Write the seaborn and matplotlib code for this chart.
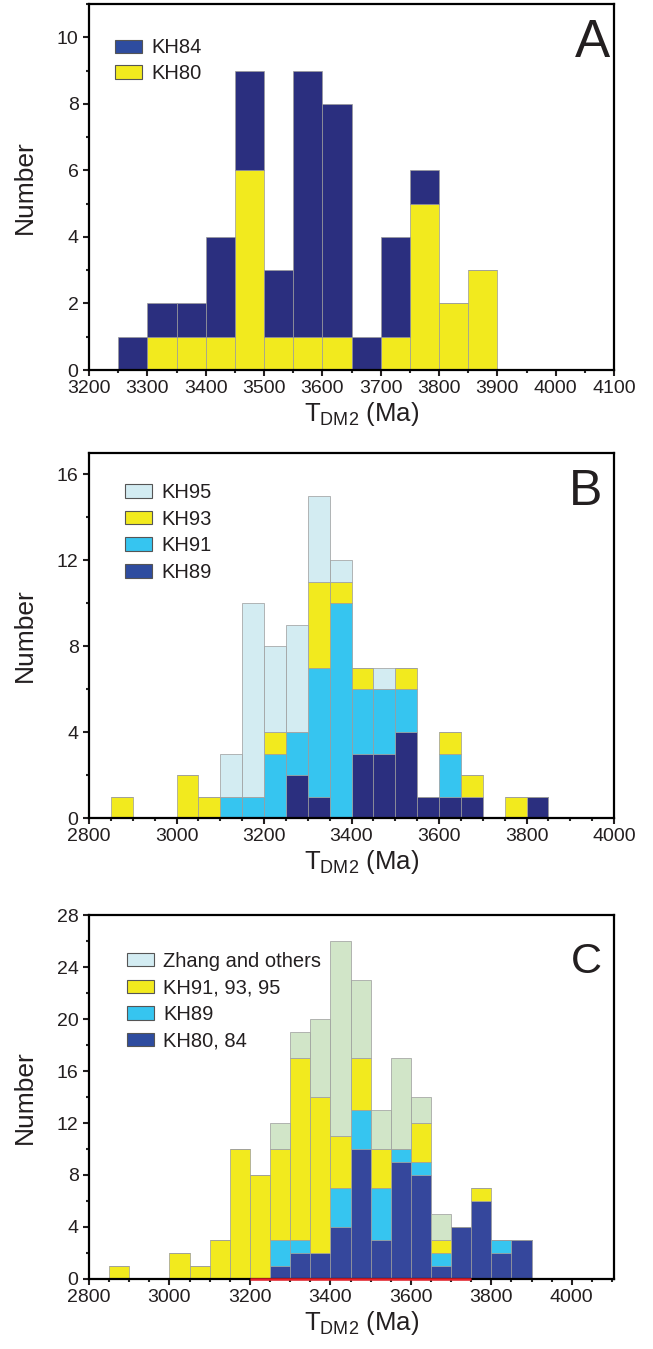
import matplotlib
matplotlib.use("Agg")
import matplotlib.pyplot as plt
from matplotlib.patches import Patch
from matplotlib.ticker import MultipleLocator
import numpy as np
import pandas as pd
import seaborn as sns

BIN_WIDTH = 50
INK = "#231f20"

# panel A: bin left edges (Ma) and counts per sample
A_BINS = [3250, 3300, 3350, 3400, 3450, 3500, 3550, 3600, 3650, 3700, 3750, 3800, 3850]
A_KH84 = [1, 1, 1, 3, 3, 2, 8, 7, 1, 3, 1, 0, 0]
A_KH80 = [0, 1, 1, 1, 6, 1, 1, 1, 0, 1, 5, 2, 3]

# panel B
B_BINS = [2850, 2900, 2950, 3000, 3050, 3100, 3150, 3200, 3250, 3300,
          3350, 3400, 3450, 3500, 3550, 3600, 3650, 3700, 3750, 3800]
B_KH95 = [0, 0, 0, 0, 0, 2, 9, 4, 5, 4, 1, 0, 1, 0, 0, 0, 0, 0, 0, 0]
B_KH93 = [1, 0, 0, 2, 1, 0, 0, 1, 0, 4, 1, 1, 0, 1, 0, 1, 1, 0, 1, 0]
B_KH91 = [0, 0, 0, 0, 0, 1, 1, 3, 2, 6, 10, 3, 3, 2, 0, 2, 0, 0, 0, 0]
B_KH89 = [0, 0, 0, 0, 0, 0, 0, 0, 2, 1, 0, 3, 3, 4, 1, 1, 1, 0, 0, 1]

# panel C
C_BINS = [2850, 2900, 2950, 3000, 3050, 3100, 3150, 3200, 3250, 3300, 3350,
          3400, 3450, 3500, 3550, 3600, 3650, 3700, 3750, 3800, 3850]
C_ZHANG = [0, 0, 0, 0, 0, 0, 0, 0, 2, 2, 6, 15, 6, 3, 7, 2, 2, 0, 0, 0, 0]
C_KH91_95 = [1, 0, 0, 2, 1, 3, 10, 8, 7, 14, 12, 4, 4, 3, 0, 3, 1, 0, 1, 0, 0]
C_KH89 = [0, 0, 0, 0, 0, 0, 0, 0, 2, 1, 0, 3, 3, 4, 1, 1, 1, 0, 0, 1, 0]
C_KH80_84 = [0, 0, 0, 0, 0, 0, 0, 0, 1, 2, 2, 4, 10, 3, 9, 8, 1, 4, 6, 2, 3]
C_RED_SPAN = [3200, 3750]

NAVY = "#2b2f7f"
NAVY_C = "#35479c"
YELLOW = "#f2ea1e"
CYAN = "#36c5f0"
PALE_BLUE = "#d3ecf2"
PALE_GREEN = "#d1e5c8"
LEGEND_BLUE = "#2e4c9f"


def stack_frame(bins, series):
  rows = []
  for name, counts in series.items():
    for left, n in zip(bins, counts):
      rows.append({"age": left + BIN_WIDTH / 2, "count": n, "sample": name})
  return pd.DataFrame(rows)


def draw_panel(ax, bins, series, colors, legend_colors, xlim, ylim,
               xmajor, ymajor, yminor, letter, letter_x, letter_y,
               letter_size, legend_xy, spacing):
  edges = list(bins) + [bins[-1] + BIN_WIDTH]
  sns.histplot(
    data=stack_frame(bins, series),
    x="age",
    weights="count",
    hue="sample",
    hue_order=list(series),
    palette=colors,
    bins=edges,
    multiple="stack",
    alpha=1,
    edgecolor="#9a9a9a",
    linewidth=0.5,
    legend=False,
    ax=ax,
  )
  ax.set_xticks(np.arange(xlim[0], xlim[1] + 1, xmajor))
  ax.xaxis.set_minor_locator(MultipleLocator(50))
  ax.yaxis.set_major_locator(MultipleLocator(ymajor))
  ax.yaxis.set_minor_locator(MultipleLocator(yminor))
  ax.set_xlim(*xlim)
  ax.set_ylim(*ylim)
  ax.tick_params(which="major", direction="out", length=4, width=1.5,
                 labelsize=14, pad=3.5, colors=INK)
  ax.tick_params(which="minor", direction="out", length=2.5, width=1.5)
  for spine in ax.spines.values():
    spine.set_linewidth(1.6)
    spine.set_color("black")
    spine.set_visible(True)
  ax.set_ylabel("Number", fontsize=19, color=INK)
  ax.yaxis.set_label_coords(-0.100, 0.5)
  ax.set_xlabel("T$_\\mathregular{DM2}$ (Ma)", fontsize=18.5, color=INK)
  ax.xaxis.set_label_coords(0.52, -0.082)
  handles = [Patch(facecolor=legend_colors[n], edgecolor="#555555",
                   linewidth=0.8, label=n) for n in series]
  ax.legend(handles=handles, loc="upper left", bbox_to_anchor=legend_xy,
            frameon=False, fontsize=14.5, handlelength=1.35, handleheight=0.65,
            handletextpad=0.45, labelspacing=spacing, borderpad=0,
            borderaxespad=0, labelcolor=INK)
  ax.text(letter_x, letter_y, letter, transform=ax.transAxes, ha="right",
          va="top", fontsize=letter_size, color=INK)


sns.set_style("ticks")
plt.rcParams["font.family"] = ["Liberation Sans", "DejaVu Sans"]
plt.rcParams["mathtext.default"] = "regular"

fig = plt.figure(figsize=(6.53, 13.49), dpi=100)
left, width = 0.1363, 0.804
ax_a = fig.add_axes([left, 0.7257, width, 0.2713])
ax_b = fig.add_axes([left, 0.3936, width, 0.2706])
ax_c = fig.add_axes([left, 0.0519, width, 0.2698])

draw_panel(
  ax_a, A_BINS, {"KH84": A_KH84, "KH80": A_KH80},
  {"KH84": NAVY, "KH80": YELLOW},
  {"KH84": LEGEND_BLUE, "KH80": YELLOW},
  (3200, 4100), (0, 11), 100, 2, 1,
  "A", 0.992, 0.962, 38, (0.0495, 0.906), 0.33,
)
draw_panel(
  ax_b, B_BINS,
  {"KH95": B_KH95, "KH93": B_KH93, "KH91": B_KH91, "KH89": B_KH89},
  {"KH95": PALE_BLUE, "KH93": YELLOW, "KH91": CYAN, "KH89": NAVY},
  {"KH95": PALE_BLUE, "KH93": YELLOW, "KH91": CYAN, "KH89": LEGEND_BLUE},
  (2800, 4000), (0, 17), 200, 4, 2,
  "B", 0.978, 0.955, 36, (0.0686, 0.918), 0.38,
)
draw_panel(
  ax_c, C_BINS,
  {"Zhang and others": C_ZHANG, "KH91, 93, 95": C_KH91_95,
   "KH89": C_KH89, "KH80, 84": C_KH80_84},
  {"Zhang and others": PALE_GREEN, "KH91, 93, 95": YELLOW,
   "KH89": CYAN, "KH80, 84": NAVY_C},
  {"Zhang and others": PALE_BLUE, "KH91, 93, 95": YELLOW,
   "KH89": CYAN, "KH80, 84": LEGEND_BLUE},
  (2800, 4105), (0, 28), 200, 4, 2,
  "C", 0.977, 0.927, 31, (0.0724, 0.899), 0.38,
)
ax_c.plot(C_RED_SPAN, [0, 0], color="#e8202a", linewidth=1.8,
          solid_capstyle="butt", clip_on=False, zorder=5)

fig.savefig("out.png", dpi=100)
